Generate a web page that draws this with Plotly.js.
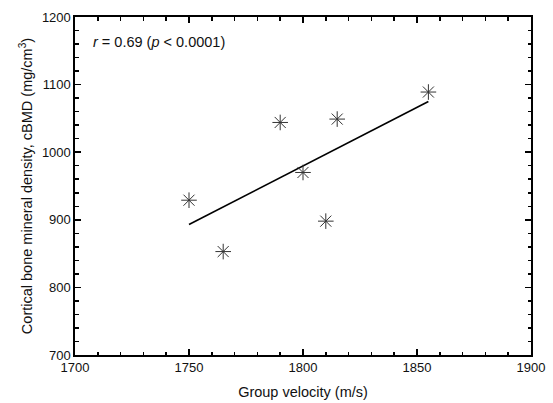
<!DOCTYPE html>
<html><head><meta charset="utf-8">
<script src="https://cdn.plot.ly/plotly-3.0.1.min.js"></script>
<style>body{margin:0;padding:0;background:#fff}#chart{width:553px;height:403px}</style>
</head><body><div id="chart"></div>
<script>
const velocity = [1750, 1765, 1790, 1800, 1810, 1815, 1855];
const cbmd = [929, 853, 1044, 970, 898, 1049, 1089];
const fitX = [1750, 1855];
const fitY = [893, 1075];
const annotationText = '<i>r</i> = 0.69 (<i>p</i> < 0.0001)';

const traces = [
  {x: fitX, y: fitY, mode: 'lines', line: {color: 'black', width: 1.6}, hoverinfo: 'skip'},
  {x: velocity, y: cbmd, mode: 'markers',
   marker: {symbol: 'asterisk-open', size: 13, color: '#333', line: {color: '#333', width: 1}}}
];
const axisCommon = {
  showgrid: false, zeroline: false, showline: true, linecolor: 'black', linewidth: 1.6,
  mirror: 'allticks', ticks: 'inside', ticklen: 6, tickwidth: 1.5, tickcolor: 'black',
  tickfont: {family: 'Liberation Sans, Arial, sans-serif', size: 13, color: '#111'}
};
const layout = {
  width: 553, height: 403,
  margin: {l: 75, r: 22, t: 17, b: 48},
  showlegend: false,
  paper_bgcolor: 'white', plot_bgcolor: 'white',
  font: {family: 'Liberation Sans, Arial, sans-serif', color: '#111'},
  xaxis: Object.assign({}, axisCommon, {
    range: [1700, 1900], dtick: 50, tick0: 1700,
    minor: {dtick: 10, ticklen: 3.5, tickwidth: 1.5, tickcolor: 'black', ticks: 'inside'},
    title: {text: 'Group velocity (m/s)', font: {size: 14.5}, standoff: 12}
  }),
  yaxis: Object.assign({}, axisCommon, {
    range: [700, 1200], dtick: 100, tick0: 700,
    minor: {dtick: 20, ticklen: 3.5, tickwidth: 1.5, tickcolor: 'black', ticks: 'inside'},
    title: {text: 'Cortical bone mineral density, cBMD (mg/cm<sup>3</sup>)', font: {size: 14.5}, standoff: 6}
  }),
  annotations: [{
    text: annotationText, xref: 'paper', yref: 'paper', x: 0.035, y: 0.925,
    xanchor: 'left', yanchor: 'middle', showarrow: false,
    font: {size: 14.5, family: 'Liberation Sans, Arial, sans-serif', color: '#111'}
  }]
};
Plotly.newPlot('chart', traces, layout, {displayModeBar: false, staticPlot: true});
</script></body></html>
